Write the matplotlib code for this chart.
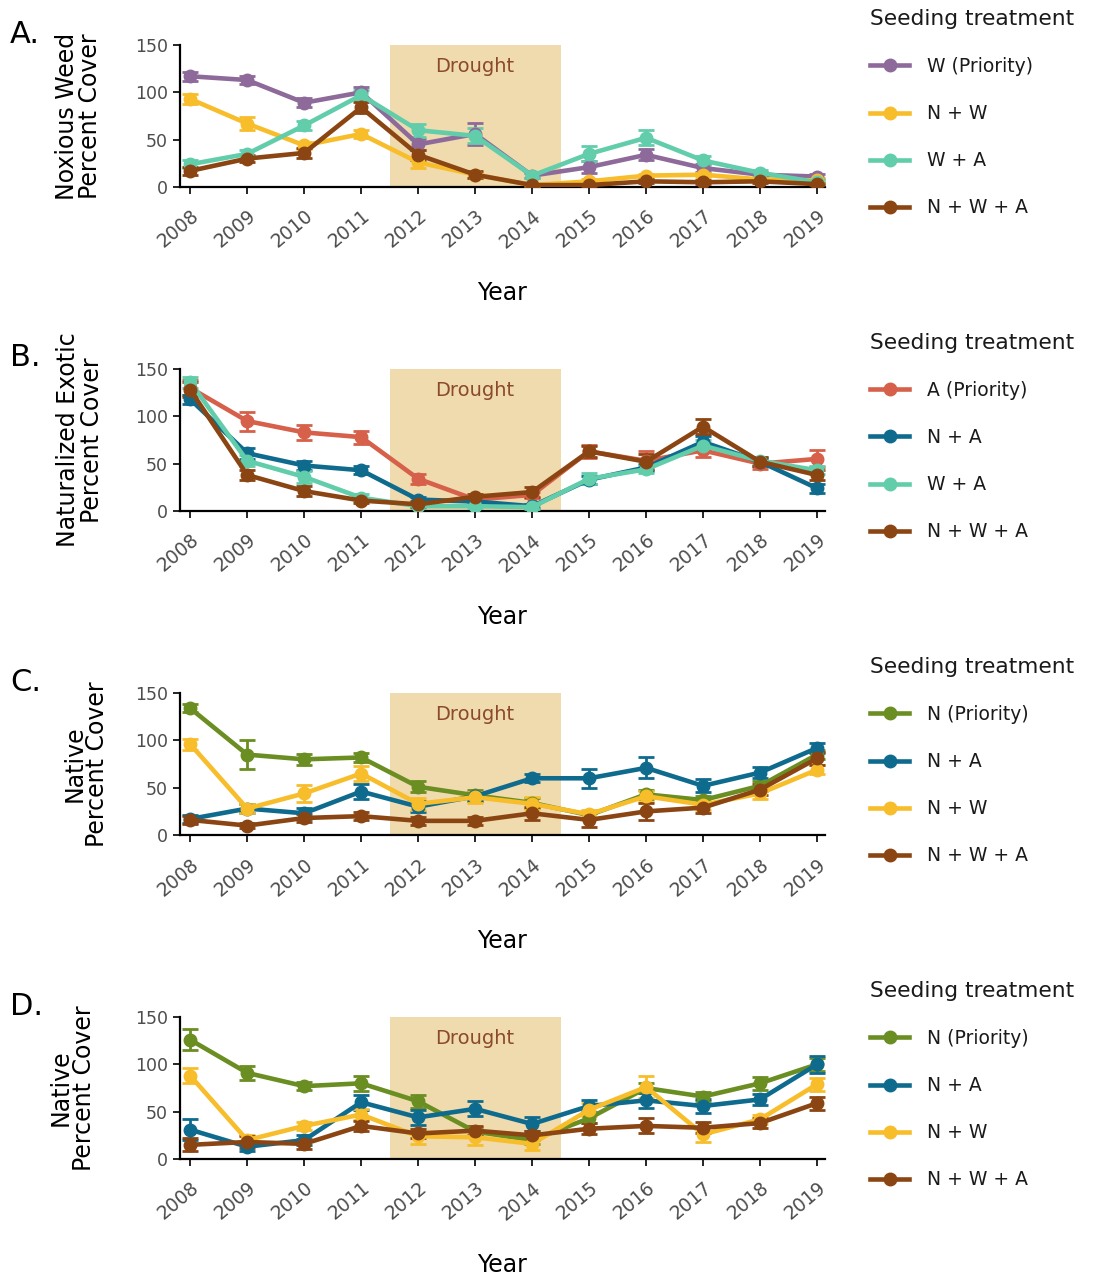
import matplotlib
matplotlib.use('Agg')
import matplotlib.pyplot as plt
from matplotlib.lines import Line2D
import numpy as np

plt.rcParams['font.family'] = ['DejaVu Sans']

years = np.arange(2008, 2020)

# colours per seeding treatment
colW = '#8E6A9B'
colNW = '#F8BD2B'
colWA = '#62CDAA'
colNWA = '#8B4513'
colA = '#D6604A'
colNA = '#0F6B8E'
colN = '#6A8E22'

# A. noxious weed cover
weedLabels = ['W (Priority)', 'N + W', 'W + A', 'N + W + A']
weedMeans = [
    [117, 113, 89, 100, 45, 56, 12, 21, 34, 20, 13, 11],
    [93, 67, 44, 56, 26, 13, 2, 6, 12, 13, 8, 7],
    [24, 35, 65, 97, 60, 54, 12, 35, 52, 28, 15, 5],
    [17, 30, 36, 84, 34, 13, 2, 2, 6, 5, 6, 3],
]
weedSE = [
    [5, 4, 5, 6, 6, 12, 3, 6, 6, 4, 3, 3],
    [5, 7, 4, 4, 6, 3, 1, 2, 2, 2, 2, 2],
    [4, 4, 5, 5, 7, 8, 3, 8, 8, 5, 3, 2],
    [4, 4, 5, 6, 5, 4, 1, 1, 2, 2, 2, 1],
]

# B. naturalized exotic cover
exoticLabels = ['A (Priority)', 'N + A', 'W + A', 'N + W + A']
exoticMeans = [
    [130, 95, 83, 78, 34, 12, 17, 63, 53, 64, 50, 55],
    [118, 61, 48, 43, 12, 10, 5, 33, 46, 73, 52, 24],
    [136, 53, 36, 14, 5, 5, 4, 34, 44, 69, 53, 43],
    [128, 38, 21, 11, 7, 15, 20, 63, 52, 89, 52, 38],
]
exoticSE = [
    [8, 10, 8, 7, 5, 3, 3, 7, 10, 7, 6, 9],
    [5, 6, 5, 4, 3, 2, 2, 4, 4, 6, 4, 5],
    [6, 6, 6, 4, 2, 2, 2, 6, 4, 6, 4, 4],
    [8, 5, 5, 3, 3, 3, 5, 6, 8, 8, 5, 5],
]

# C. native cover
nativeLabels = ['N (Priority)', 'N + A', 'N + W', 'N + W + A']
nativeMeansC = [
    [134, 85, 80, 82, 51, 42, 34, 21, 43, 37, 52, 85],
    [17, 28, 23, 46, 30, 41, 60, 60, 71, 52, 66, 92],
    [96, 28, 44, 65, 33, 40, 33, 22, 41, 32, 44, 69],
    [16, 10, 18, 20, 15, 15, 23, 16, 25, 29, 48, 81],
]
nativeSEC = [
    [4, 15, 6, 5, 6, 6, 5, 4, 5, 4, 5, 5],
    [4, 5, 6, 8, 6, 5, 4, 10, 11, 7, 6, 5],
    [6, 5, 9, 8, 6, 6, 7, 5, 6, 5, 6, 5],
    [4, 3, 4, 4, 4, 4, 7, 7, 9, 6, 6, 7],
]

# D. native cover (second set)
nativeMeansD = [
    [126, 91, 77, 80, 61, 29, 20, 43, 75, 66, 80, 100],
    [31, 13, 20, 60, 44, 53, 37, 56, 62, 56, 63, 100],
    [88, 20, 35, 47, 24, 23, 16, 52, 76, 26, 42, 79],
    [15, 18, 16, 35, 27, 30, 25, 32, 35, 33, 38, 59],
]
nativeSED = [
    [11, 7, 4, 8, 7, 5, 4, 5, 5, 5, 7, 7],
    [11, 5, 5, 8, 8, 8, 7, 6, 8, 7, 6, 9],
    [8, 5, 4, 6, 8, 8, 6, 7, 12, 8, 5, 7],
    [7, 6, 5, 5, 5, 5, 5, 6, 8, 6, 5, 7],
]

panels = [
    ('A.', 'Noxious Weed\nPercent Cover', weedLabels, weedMeans, weedSE,
     [colW, colNW, colWA, colNWA], -0.157),
    ('B.', 'Naturalized Exotic\nPercent Cover', exoticLabels, exoticMeans, exoticSE,
     [colA, colNA, colWA, colNWA], -0.155),
    ('C.', 'Native\nPercent Cover', nativeLabels, nativeMeansC, nativeSEC,
     [colN, colNA, colNW, colNWA], -0.146),
    ('D.', 'Native\nPercent Cover', nativeLabels, nativeMeansD, nativeSED,
     [colN, colNA, colNW, colNWA], -0.167),
]

fig = plt.figure(figsize=(10.94, 12.79), dpi=100)
bottoms = [0.8538, 0.6005, 0.3471, 0.0938]
axH = 0.111
pxH = axH * 1279

for (letter, ylab, labels, means, ses, cols, ylx), bot in zip(panels, bottoms):
    ax = fig.add_axes([0.1645, bot, 0.5896, axH])
    ax.axvspan(2011.5, 2014.5, color='#F0DBAE', lw=0, zorder=0)
    ax.text(2013, 127, 'Drought', ha='center', va='center', fontsize=14,
            color='#8B4A2B', zorder=1)
    for lab, m, s, c in zip(labels, means, ses, cols):
        ax.errorbar(years, m, yerr=s, color=c, lw=3.3, marker='o', ms=9,
                    capsize=5.5, capthick=2, elinewidth=2, zorder=3)
    ax.set_xlim(2007.82, 2019.14)
    ax.set_ylim(0, 150)
    ax.set_yticks([0, 50, 100, 150])
    ax.set_xticks(years)
    ax.set_xticklabels([str(y) for y in years], rotation=40, ha='right', va='top',
                       rotation_mode='anchor', fontsize=13.5, color='#4D4D4D')
    ax.tick_params(axis='y', labelsize=12.5, labelcolor='#4D4D4D', length=5, width=1.2)
    ax.tick_params(axis='x', length=5, width=1.2, pad=9)
    for side in ['top', 'right']:
        ax.spines[side].set_visible(False)
    for side in ['left', 'bottom']:
        ax.spines[side].set_linewidth(1.6)

    ax.set_ylabel(ylab, fontsize=17, linespacing=0.95, va='center', ha='center')
    ax.yaxis.set_label_coords(ylx, 0.5)
    ax.set_xlabel('Year', fontsize=17, va='center')
    ax.xaxis.set_label_coords(0.5, -106 / pxH)

    ax.text(-0.2636, 1 + 11 / pxH, letter, transform=ax.transAxes, fontsize=22,
            ha='left', va='center')

    handles = [Line2D([], [], color=c, lw=3.3, marker='o', ms=9) for c in cols]
    leg = ax.legend(handles, labels, loc='upper left', bbox_to_anchor=(1.0698, 1.255),
                    frameon=False, title='Seeding treatment', title_fontsize=15.7,
                    fontsize=13.5, labelspacing=1.5, handlelength=2.1,
                    handletextpad=0.95, borderpad=0, borderaxespad=0)
    leg._legend_box.align = 'left'
    leg.get_title().set_color('#1A1A1A')
    for t in leg.get_texts():
        t.set_color('#1A1A1A')

fig.savefig('out.png', dpi=100)
